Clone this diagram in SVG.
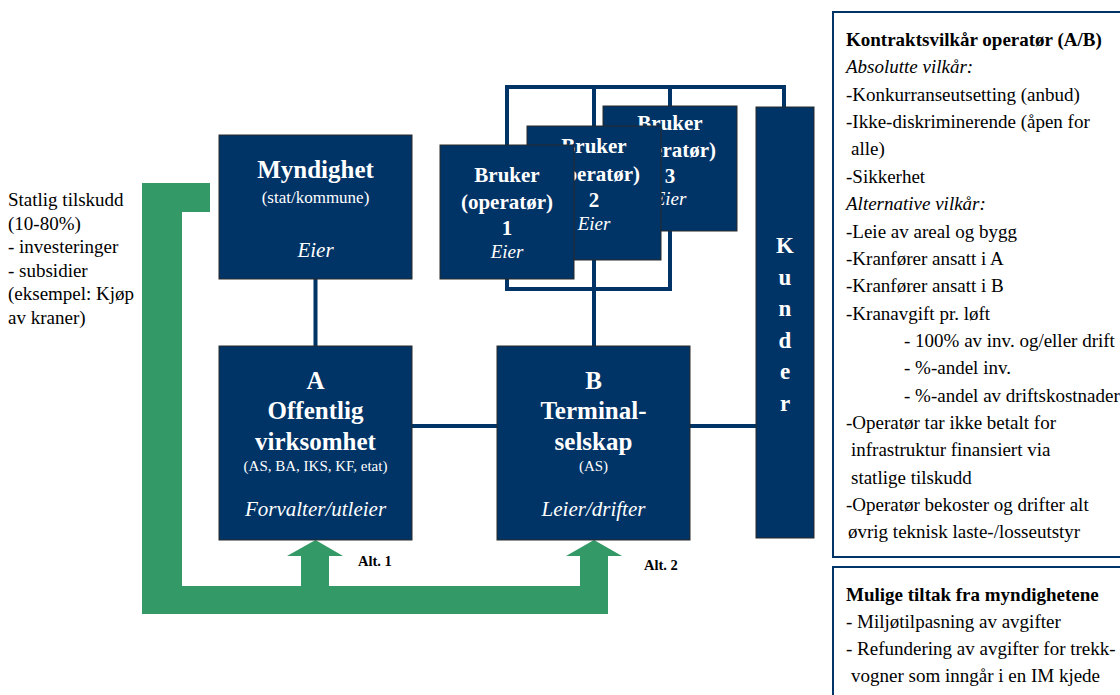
<svg xmlns="http://www.w3.org/2000/svg" width="1120" height="695" viewBox="0 0 1120 695" font-family="'Liberation Serif', 'Times New Roman', Tinos, 'DejaVu Serif', serif">
<style>
text{font-family:'Liberation Serif','Times New Roman',Tinos,'DejaVu Serif',serif;}
.box{fill:#003366;stroke:#2a2a2a;stroke-width:1;}
.w{fill:#fff;text-anchor:middle;}
.b{font-weight:bold;}
.i{font-style:italic;}
.line{fill:none;stroke:#003366;stroke-width:4;}
.panel{fill:#fff;stroke:#003366;stroke-width:2;}
.t{fill:#000;font-size:19px;}
</style>
<rect width="1120" height="695" fill="#fff"/>
<g id="connectors">
<path class="line" d="M784,107 V87 H507 V289 H670 V87 M594,87 V347"/>
<path class="line" d="M315.5,279 V346"/>
<path class="line" d="M412,426 H497 M690,426 H756"/>
</g>
<g id="subsidy-arrows">
<path fill="#339966" d="M142,183 H210 V212 H182 V586 H301 V556 H287 L315.5,540 L343,556 H329 V586 H580 V556 H566 L594,540 L622,556 H608 V614 H142 Z"/>
<text class="b" x="358" y="566" font-size="14.5" fill="#000">Alt. 1</text>
<text class="b" x="644" y="570" font-size="14.5" fill="#000">Alt. 2</text>
</g>
<g id="subsidy-text" class="t">
<text x="8" y="206">Statlig tilskudd</text>
<text x="8" y="229.5">(10-80%)</text>
<text x="8" y="253">- investeringer</text>
<text x="8" y="276.5">- subsidier</text>
<text x="8" y="300">(eksempel: Kjøp</text>
<text x="8" y="323.5">av kraner)</text>
</g>
<g id="myndighet">
<rect class="box" x="219" y="135" width="193" height="144"/>
<text class="w b" x="315.5" y="178" font-size="25">Myndighet</text>
<text class="w" x="315.5" y="203" font-size="17">(stat/kommune)</text>
<text class="w i" x="315.5" y="257" font-size="21">Eier</text>
</g>
<g id="bruker3">
<rect class="box" x="603" y="106" width="134" height="125"/>
<text class="w b" x="670" y="130" font-size="21">Bruker</text>
<text class="w b" x="670" y="157" font-size="21">(operatør)</text>
<text class="w b" x="670" y="183" font-size="21">3</text>
<text class="w i" x="670" y="205" font-size="19">Eier</text>
</g>
<g id="bruker2">
<rect class="box" x="527" y="126" width="134" height="134"/>
<text class="w b" x="594" y="153" font-size="21">Bruker</text>
<text class="w b" x="594" y="181" font-size="21">(operatør)</text>
<text class="w b" x="594" y="207" font-size="21">2</text>
<text class="w i" x="594" y="230" font-size="19">Eier</text>
</g>
<g id="bruker1">
<rect class="box" x="440" y="145" width="134" height="134"/>
<text class="w b" x="507" y="182" font-size="21">Bruker</text>
<text class="w b" x="507" y="209" font-size="21">(operatør)</text>
<text class="w b" x="507" y="235" font-size="21">1</text>
<text class="w i" x="507" y="258" font-size="19">Eier</text>
</g>
<g id="kunder">
<rect class="box" x="756" y="107" width="58" height="431"/>
<text class="w b" x="785" y="253" font-size="23">K</text>
<text class="w b" x="785" y="284.6" font-size="23">u</text>
<text class="w b" x="785" y="316.2" font-size="23">n</text>
<text class="w b" x="785" y="347.8" font-size="23">d</text>
<text class="w b" x="785" y="379.4" font-size="23">e</text>
<text class="w b" x="785" y="411" font-size="23">r</text>
</g>
<g id="a-offentlig">
<rect class="box" x="219" y="346" width="193" height="194"/>
<text class="w b" x="315.5" y="389" font-size="25">A</text>
<text class="w b" x="315.5" y="419" font-size="25">Offentlig</text>
<text class="w b" x="315.5" y="450" font-size="25">virksomhet</text>
<text class="w" x="315.5" y="471" font-size="15">(AS, BA, IKS, KF, etat)</text>
<text class="w i" x="315.5" y="516" font-size="21">Forvalter/utleier</text>
</g>
<g id="b-terminal">
<rect class="box" x="497" y="346" width="193" height="194"/>
<text class="w b" x="593.5" y="389" font-size="25">B</text>
<text class="w b" x="593.5" y="419" font-size="25">Terminal-</text>
<text class="w b" x="593.5" y="450" font-size="25">selskap</text>
<text class="w" x="593.5" y="471" font-size="15">(AS)</text>
<text class="w i" x="593.5" y="516" font-size="21">Leier/drifter</text>
</g>
<g id="kontraktsvilkar">
<rect class="panel" x="833" y="12" width="300" height="545"/>
<g class="t">
<text class="b" x="846" y="46">Kontraktsvilkår operatør (A/B)</text>
<text class="i" x="846" y="73.4">Absolutte vilkår:</text>
<text x="846" y="100.7">-Konkurranseutsetting (anbud)</text>
<text x="846" y="128.1">-Ikke-diskriminerende (åpen for</text>
<text x="851" y="155.4">alle)</text>
<text x="846" y="182.8">-Sikkerhet</text>
<text class="i" x="846" y="210.1">Alternative vilkår:</text>
<text x="846" y="237.5">-Leie av areal og bygg</text>
<text x="846" y="264.8">-Kranfører ansatt i A</text>
<text x="846" y="292.2">-Kranfører ansatt i B</text>
<text x="846" y="319.5">-Kranavgift pr. løft</text>
<text x="904" y="346.9">- 100% av inv. og/eller drift</text>
<text x="904" y="374.2">- %-andel inv.</text>
<text x="904" y="401.6">- %-andel av driftskostnader</text>
<text x="846" y="428.9">-Operatør tar ikke betalt for</text>
<text x="851" y="456.3">infrastruktur finansiert via</text>
<text x="851" y="483.6">statlige tilskudd</text>
<text x="846" y="511">-Operatør bekoster og drifter alt</text>
<text x="848" y="538.3">øvrig teknisk laste-/losseutstyr</text>
</g>
</g>
<g id="mulige-tiltak">
<rect class="panel" x="833" y="567" width="300" height="140"/>
<g class="t">
<text class="b" x="846" y="601">Mulige tiltak fra myndighetene</text>
<text x="846" y="628">- Miljøtilpasning av avgifter</text>
<text x="846" y="655">- Refundering av avgifter for trekk-</text>
<text x="851" y="682">vogner som inngår i en IM kjede</text>
</g>
</g>
</svg>
